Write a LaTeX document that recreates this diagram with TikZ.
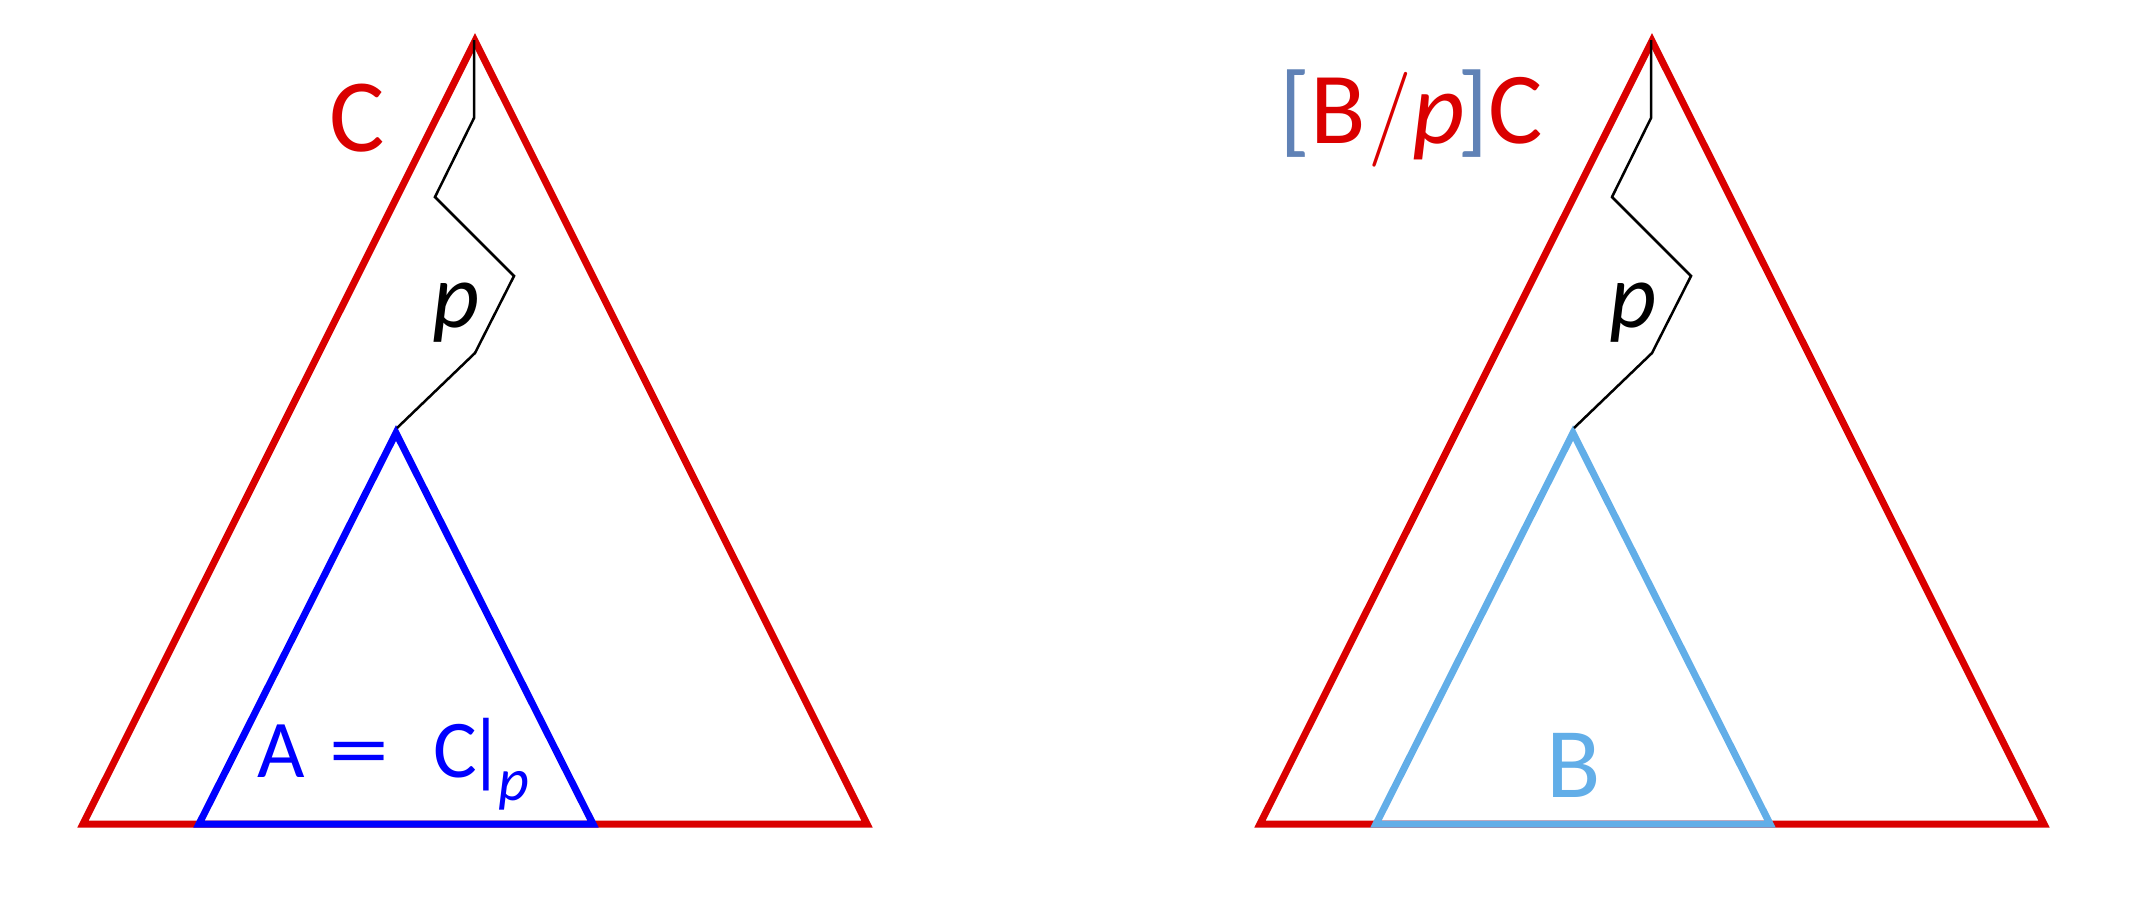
\documentclass[tikz,border=0pt]{standalone}
\usepackage{fontspec}
\setmainfont{Carlito}
\newfontfamily\lmslash{Latin Modern Roman}
\definecolor{cred}{RGB}{218,0,0}
\definecolor{cblue}{RGB}{0,0,255}
\definecolor{clblue}{RGB}{98,174,232}
\definecolor{cbrk}{RGB}{96,130,182}
\begin{document}
\begin{tikzpicture}[x=1pt,y=-1pt,
  tri/.style={line width=7pt, line join=miter},
  pathline/.style={line width=2.5pt, draw=black, line join=miter},
  lbl/.style={inner sep=0pt, anchor=base}]
\useasboundingbox (0,0) rectangle (2146,898);
% ---------- left tree ----------
\coordinate (Ltop) at (475,41);
\coordinate (Lbl) at (83,824);
\coordinate (Lbr) at (867,824);
\coordinate (Atop) at (396,433);
\coordinate (Abl) at (199,824);
\coordinate (Abr) at (593,824);
\draw[tri,cred] (Ltop) -- (Lbl) -- (Lbr) -- cycle;
\draw[tri,cblue] (Atop) -- (Abl) -- (Abr) -- cycle;
\coordinate (Lp0) at (474,40);
\coordinate (Lp1) at (474,118);
\coordinate (Lp2) at (435,197);
\coordinate (Lp3) at (514,276);
\coordinate (Lp4) at (475,353);
\coordinate (Lp5) at (397,428);
\draw[pathline] (Lp0) -- (Lp1) -- (Lp2) -- (Lp3) -- (Lp4) -- (Lp5);
\node[lbl,text=cred] (LC) at (357,151) {\fontsize{104}{110}\selectfont C};
\node[lbl] (Lp) at (456,327) {\fontsize{92}{100}\selectfont\itshape p};
\node[lbl,text=cblue,anchor=base west] (LA) at (257,777)
  {\fontsize{82}{90}\selectfont A\hspace{24pt}\scalebox{1.5}[1]{=}\hspace{44pt}C\hspace{-10pt}|\hspace{-7pt}\raisebox{-23pt}{\fontsize{60}{66}\selectfont\itshape p}};
% ---------- right tree ----------
\coordinate (Rtop) at (1652,41);
\coordinate (Rbl) at (1260,824);
\coordinate (Rbr) at (2044,824);
\coordinate (Btop) at (1573,433);
\coordinate (Bbl) at (1376,824);
\coordinate (Bbr) at (1770,824);
\draw[tri,cred] (Rtop) -- (Rbl) -- (Rbr) -- cycle;
\draw[tri,clblue] (Btop) -- (Bbl) -- (Bbr) -- cycle;
\coordinate (Rp0) at (1651,40);
\coordinate (Rp1) at (1651,118);
\coordinate (Rp2) at (1612,197);
\coordinate (Rp3) at (1691,276);
\coordinate (Rp4) at (1652,353);
\coordinate (Rp5) at (1574,428);
\draw[pathline] (Rp0) -- (Rp1) -- (Rp2) -- (Rp3) -- (Rp4) -- (Rp5);
\node[lbl] (Rp) at (1633,327) {\fontsize{92}{100}\selectfont\itshape p};
\node[lbl,text=clblue] (RB) at (1574,797) {\fontsize{100}{110}\selectfont B};
\node[lbl,anchor=base west,text=cred] (RL) at (1279,143)
  {\fontsize{102}{110}\selectfont\textcolor{cbrk}{[}B\hspace{3pt}{\lmslash\fontsize{95}{100}\selectfont /}\textit{p}\hspace{-8pt}\textcolor{cbrk}{]}C};
\end{tikzpicture}
\end{document}
